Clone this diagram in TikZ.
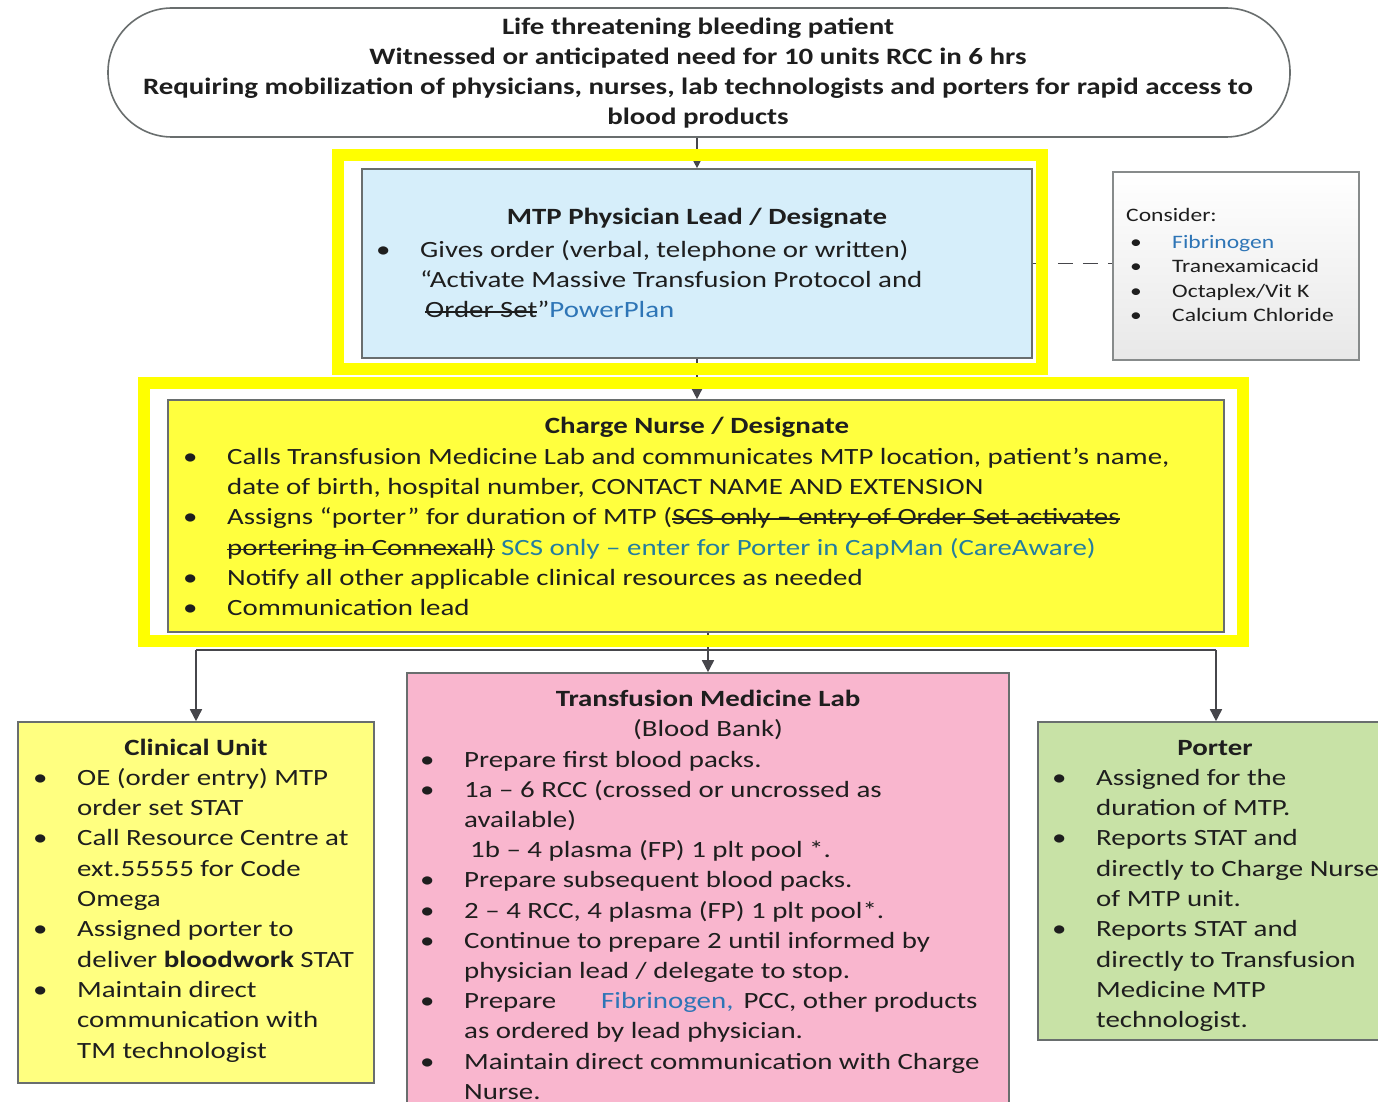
\documentclass[tikz,border=0pt]{standalone}
\usepackage{fontspec}
\setmainfont{Carlito}
\newfontfamily\topf[FakeStretch=1.23]{Carlito}
\newfontfamily\bodyf[FakeStretch=1.24]{Carlito}
\usetikzlibrary{arrows.meta}
\definecolor{ink}{RGB}{30,30,30}
\definecolor{boxline}{RGB}{105,110,110}
\definecolor{conn}{RGB}{70,70,75}
\definecolor{hl}{RGB}{255,255,0}
\definecolor{mtpfill}{RGB}{214,238,250}
\definecolor{cnfill}{RGB}{255,255,62}
\definecolor{cufill}{RGB}{255,255,128}
\definecolor{tmfill}{RGB}{249,182,206}
\definecolor{pofill}{RGB}{200,226,166}
\definecolor{lblue}{RGB}{46,117,182}
\definecolor{lteal}{RGB}{35,125,160}
\newcommand\strk[1]{\leavevmode\setbox0\hbox{#1}\rlap{\rule[0.45ex]{\wd0}{1.5pt}}\box0\relax}
\newcommand\bux[1]{\leavevmode\llap{\makebox[#1][l]{•}}}
\newcommand\bu{\bux{44pt}}
\newcommand\bodyfont{\bodyf\fontsize{23.3}{30.35}\selectfont}
\tikzset{
  box/.style={draw=boxline, line width=1.6pt, inner sep=0pt, rectangle},
  txt/.style={anchor=base west, inner sep=0pt, text=ink, font=\bodyfont},
  ttl/.style={anchor=base, inner sep=0pt, text=ink, font=\bodyfont\bfseries},
  arr/.style={draw=conn, line width=1.6pt, -{Triangle[length=12pt,width=12pt]}},
  frame/.style={draw=hl, line width=12pt, inner sep=0pt, rectangle},
}
\begin{document}
\begin{tikzpicture}[x=1pt,y=-1pt]
\useasboundingbox (0,0) rectangle (1378,1102);
\clip (0,0) rectangle (1378,1102);
\fill[white] (0,0) rectangle (1378,1102);

% top stadium
\node[draw=boxline, line width=1.6pt, rounded corners=64pt, minimum width=1182pt, minimum height=129pt, inner sep=0pt] (top) at (699,72.5) {};
\node[anchor=base, inner sep=0pt, text=ink] (toptxt) at (698,35)
  {\parbox[t]{1180pt}{\centering\topf\fontsize{23.5}{29.8}\selectfont\bfseries
   Life threatening bleeding patient\\
   Witnessed or anticipated need for 10 units RCC in 6 hrs\\
   Requiring mobilization of physicians, nurses, lab technologists and porters for rapid access to\\
   blood products}};

% MTP physician box
\node[box, fill=mtpfill, minimum width=670pt, minimum height=189pt] (mtp) at (697,263.5) {};
\node[ttl] (mtpt) at (697,225) {MTP Physician Lead / Designate};
\node[txt] (mtpb) at (420,257) {\parbox[t]{700pt}{\bodyfont
  \bu Gives order (verbal, telephone or written)\\
  “Activate Massive Transfusion Protocol and\\
  \hspace*{5pt}\strk{Order Set}”{\color{lblue}PowerPlan}}};

% consider box
\node[box, draw=boxline!80, top color=white, bottom color=black!9, minimum width=246pt, minimum height=188pt] (cons) at (1236,266) {};
\node[txt, font=\bodyf\fontsize{19}{24.6}\selectfont] (const) at (1126,222) {Consider:};
\node[txt] (consb) at (1172,248) {\parbox[t]{200pt}{\bodyf\fontsize{19}{24.6}\selectfont
  \bux{42pt}{\color{lblue}Fibrinogen}\\
  \bux{42pt}Tranexamicacid\\
  \bux{42pt}Octaplex/Vit K\\
  \bux{42pt}Calcium Chloride}};

% charge nurse
\node[box, fill=cnfill, minimum width=1056pt, minimum height=232pt] (cn) at (696,516) {};
\node[ttl] (cnt) at (697,433) {Charge Nurse / Designate};
\node[txt] (cnb) at (227,464) {\parbox[t]{1100pt}{\bodyfont
  \bu Calls Transfusion Medicine Lab and communicates MTP location, patient’s name,\\
  date of birth, hospital number, CONTACT NAME AND EXTENSION\\
  \bu Assigns “porter” for duration of MTP (\strk{SCS only – entry of Order Set activates}\\
  \strk{portering in Connexall)} {\color{lteal}SCS only – enter for Porter in CapMan (CareAware)}\\
  \bu Notify all other applicable clinical resources as needed\\
  \bu Communication lead}};

% clinical unit
\node[box, fill=cufill, minimum width=356pt, minimum height=361pt] (cu) at (196,902.5) {};
\node[ttl] (cut) at (196,755) {Clinical Unit};
\node[txt] (cub) at (77,785) {\parbox[t]{400pt}{\bodyfont
  \bu OE (order entry) MTP\\
  order set STAT\\
  \bu Call Resource Centre at\\
  ext.55555 for Code\\
  Omega\\
  \bu Assigned porter to\\
  deliver \textbf{bloodwork} STAT\\
  \bu Maintain direct\\
  communication with\\
  TM technologist}};

% transfusion medicine lab
\node[box, fill=tmfill, minimum width=602pt, minimum height=460pt] (tm) at (708,903) {};
\node[anchor=base, inner sep=0pt, text=ink] (tmt) at (708,706) {\parbox[t]{600pt}{\centering\bodyfont
  \textbf{Transfusion Medicine Lab}\\(Blood Bank)}};
\node[txt] (tmb) at (464,767) {\parbox[t]{700pt}{\bodyf\fontsize{23.3}{30.2}\selectfont
  \bu Prepare first blood packs.\\
  \bu 1a – 6 RCC (crossed or uncrossed as\\
  available)\\
  \hspace*{6pt}1b – 4 plasma (FP) 1 plt pool *.\\
  \bu Prepare subsequent blood packs.\\
  \bu 2 – 4 RCC, 4 plasma (FP) 1 plt pool*.\\
  \bu Continue to prepare 2 until informed by\\
  physician lead / delegate to stop.\\
  \bu \makebox[137pt][l]{Prepare}{\color{lblue}Fibrinogen,}\hspace{10pt}PCC, other products\\
  as ordered by lead physician.\\
  \bu Maintain direct communication with Charge\\
  Nurse.}};

% porter
\node[box, fill=pofill, minimum width=356pt, minimum height=318pt] (po) at (1216,881) {};
\node[ttl] (pot) at (1215,755) {Porter};
\node[txt] (pob) at (1096,785) {\parbox[t]{400pt}{\bodyfont
  \bu Assigned for the\\
  duration of MTP.\\
  \bu Reports STAT and\\
  directly to Charge Nurse\\
  of MTP unit.\\
  \bu Reports STAT and\\
  directly to Transfusion\\
  Medicine MTP\\
  technologist.}};

% connectors
\draw[arr] (mtp.north |- top.south) -- (mtp.north);
\draw[arr] (mtp.south) -- (mtp.south |- cn.north);
\draw[draw=conn, line width=1.8pt, dash pattern=on 15pt off 10pt] (mtp.east) -- (mtp.east -| cons.west);
\draw[arr] (tm.north |- cn.south) -- (tm.north);
\coordinate (hlft) at (cu.north |- 0,650);
\coordinate (hrgt) at (1216,650);
\draw[draw=conn, line width=1.6pt] (hlft) -- (hrgt);
\draw[arr] (hlft) -- (cu.north);
\draw[arr] (hrgt) -- (hrgt |- po.north);

% yellow highlight frames
\node[frame, minimum width=704pt, minimum height=214pt] (f1) at (690,262) {};
\node[frame, minimum width=1099pt, minimum height=258pt] (f2) at (693.5,512) {};
\end{tikzpicture}
\end{document}
